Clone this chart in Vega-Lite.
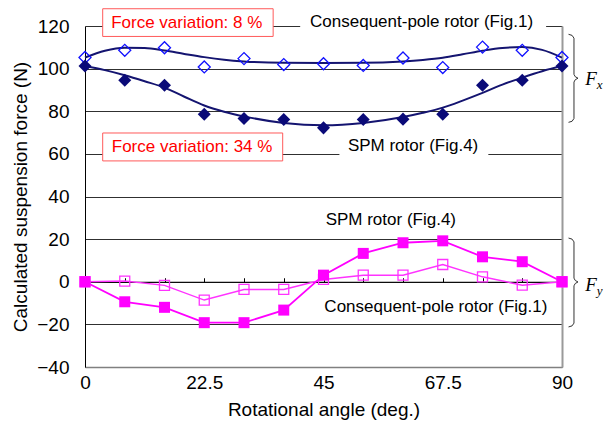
{
  "$schema": "https://vega.github.io/schema/vega-lite/v6.json",
  "width": 477,
  "height": 341,
  "autosize": "none",
  "padding": {"left": 85, "top": 26, "right": 46, "bottom": 60},
  "background": "white",
  "config": {
    "view": {"stroke": null},
    "axis": {"labelFont": "Liberation Sans", "titleFont": "Liberation Sans", "labelFontSize": 19, "titleFontSize": 19, "titleFontWeight": "normal", "labelColor": "#000", "titleColor": "#000"},
    "text": {"font": "Liberation Sans"}
  },
  "datasets": {
    "pts": [
      {"angle": 0, "fxc": 105.2, "fxs": 101.2, "fyc": 0, "fys": 0},
      {"angle": 7.5, "fxc": 108.6, "fxs": 94.5, "fyc": 0.3, "fys": -9.4},
      {"angle": 15, "fxc": 109.8, "fxs": 92.2, "fyc": -1.7, "fys": -12},
      {"angle": 22.5, "fxc": 100.8, "fxs": 78.6, "fyc": -8.6, "fys": -19.2},
      {"angle": 30, "fxc": 104.7, "fxs": 76.6, "fyc": -3.6, "fys": -19.2},
      {"angle": 37.5, "fxc": 101.9, "fxs": 76.1, "fyc": -3.6, "fys": -13.3},
      {"angle": 45, "fxc": 102.3, "fxs": 72.2, "fyc": 1.1, "fys": 3.1},
      {"angle": 52.5, "fxc": 101.5, "fxs": 76.1, "fyc": 3.1, "fys": 13.3},
      {"angle": 60, "fxc": 105, "fxs": 76.3, "fyc": 3.1, "fys": 18.3},
      {"angle": 67.5, "fxc": 100.5, "fxs": 78.6, "fyc": 8.1, "fys": 19.2},
      {"angle": 75, "fxc": 110.1, "fxs": 92.2, "fyc": 2.3, "fys": 11.7},
      {"angle": 82.5, "fxc": 108.6, "fxs": 94.5, "fyc": -1.6, "fys": 9.4},
      {"angle": 90, "fxc": 105.2, "fxs": 101.2, "fyc": 0, "fys": 0}
    ],
    "fit": [
      {"angle": 0, "cons": 105.2, "spm": 101.2},
      {"angle": 3.75, "cons": 108.4, "spm": 99.3},
      {"angle": 7.5, "cons": 109.8, "spm": 96.9},
      {"angle": 11.25, "cons": 109.7, "spm": 94.1},
      {"angle": 15, "cons": 108.5, "spm": 91.1},
      {"angle": 18.75, "cons": 106.9, "spm": 86.8},
      {"angle": 22.5, "cons": 105.4, "spm": 82.7},
      {"angle": 26.25, "cons": 104.2, "spm": 79.8},
      {"angle": 30, "cons": 103.4, "spm": 77.6},
      {"angle": 37.5, "cons": 102.7, "spm": 74.5},
      {"angle": 45, "cons": 102.6, "spm": 73.4},
      {"angle": 52.5, "cons": 102.7, "spm": 74.5},
      {"angle": 60, "cons": 103.4, "spm": 77.3},
      {"angle": 63.75, "cons": 104.1, "spm": 79.3},
      {"angle": 67.5, "cons": 105.1, "spm": 81.7},
      {"angle": 71.25, "cons": 106.7, "spm": 85},
      {"angle": 75, "cons": 108.4, "spm": 88.6},
      {"angle": 78.75, "cons": 109.7, "spm": 92.5},
      {"angle": 82.5, "cons": 110.1, "spm": 95.8},
      {"angle": 86.25, "cons": 108.8, "spm": 98.8},
      {"angle": 90, "cons": 105.2, "spm": 101.2}
    ],
    "boxes": [
      {"kind": "gap", "x1": 40.6, "x2": 87, "y1": 115.5, "y2": 127},
      {"kind": "gap", "x1": 48, "x2": 76.1, "y1": 56.5, "y2": 68},
      {"kind": "frame", "x1": 3.34, "x2": 35.5, "y1": 115.1, "y2": 128.1},
      {"kind": "frame", "x1": 3.34, "x2": 37.3, "y1": 56.7, "y2": 69.8}
    ],
    "labels": [
      {"kind": "var", "text": "Force variation: 8 %", "x": 19.2, "y": 121.4},
      {"kind": "var", "text": "Force variation: 34 %", "x": 20.2, "y": 63.3},
      {"kind": "rotor", "text": "Consequent-pole rotor (Fig.1)", "x": 63.5, "y": 121.7},
      {"kind": "rotor", "text": "SPM rotor (Fig.4)", "x": 61.9, "y": 63.7},
      {"kind": "rotor", "text": "SPM rotor (Fig.4)", "x": 57.7, "y": 29.2},
      {"kind": "rotor", "text": "Consequent-pole rotor (Fig.1)", "x": 66.2, "y": -12}
    ],
    "sym": [
      {"part": "main", "text": "F", "x": 95.5, "y": 94.9},
      {"part": "sub", "text": "x", "x": 97.1, "y": 92.4},
      {"part": "main", "text": "F", "x": 95.5, "y": -1.5},
      {"part": "sub", "text": "y", "x": 97.1, "y": -4.2}
    ],
    "braces": [
      {"b": "fx", "o": 1, "x": 91.23, "y": 116.1},
      {"b": "fx", "o": 2, "x": 91.9, "y": 115.6},
      {"b": "fx", "o": 3, "x": 92.26, "y": 114.3},
      {"b": "fx", "o": 4, "x": 92.26, "y": 97.3},
      {"b": "fx", "o": 5, "x": 92.5, "y": 96.2},
      {"b": "fx", "o": 6, "x": 93.02, "y": 95.5},
      {"b": "fx", "o": 7, "x": 92.5, "y": 94.8},
      {"b": "fx", "o": 8, "x": 92.26, "y": 93.7},
      {"b": "fx", "o": 9, "x": 92.26, "y": 76.6},
      {"b": "fx", "o": 10, "x": 91.9, "y": 75.3},
      {"b": "fx", "o": 11, "x": 91.23, "y": 74.8},
      {"b": "fy", "o": 1, "x": 91.23, "y": 20.5},
      {"b": "fy", "o": 2, "x": 91.9, "y": 20},
      {"b": "fy", "o": 3, "x": 92.26, "y": 18.7},
      {"b": "fy", "o": 4, "x": 92.26, "y": 1.7},
      {"b": "fy", "o": 5, "x": 92.5, "y": 0.6},
      {"b": "fy", "o": 6, "x": 93.02, "y": -0.1},
      {"b": "fy", "o": 7, "x": 92.5, "y": -0.8},
      {"b": "fy", "o": 8, "x": 92.26, "y": -1.9},
      {"b": "fy", "o": 9, "x": 92.26, "y": -19.4},
      {"b": "fy", "o": 10, "x": 91.9, "y": -20.7},
      {"b": "fy", "o": 11, "x": 91.23, "y": -21.2}
    ]
  },
  "resolve": {"axis": {"x": "independent", "y": "independent"}},
  "layer": [
    {
      "data": {"name": "boxes"},
      "transform": [{"filter": "datum.kind == 'gap'"}],
      "mark": {"type": "rect", "fill": "white", "stroke": null},
      "encoding": {
        "x": {"field": "x1", "type": "quantitative", "scale": {"domain": [0, 90], "nice": false, "zero": false},
          "axis": {"values": [0, 22.5, 45, 67.5, 90], "format": ".1~f", "ticks": false, "grid": false, "domainColor": "#808080", "domainWidth": 1.5, "labelPadding": 6, "labelFlush": false, "labelOverlap": false, "title": "Rotational angle (deg.)", "titlePadding": 8}},
        "x2": {"field": "x2"},
        "y": {"field": "y1", "type": "quantitative", "scale": {"domain": [-40, 120], "nice": false, "zero": false},
          "axis": {"values": [-40, -20, 0, 20, 40, 60, 80, 100, 120], "grid": true, "gridColor": "#303030", "ticks": false, "domainColor": "#000", "labelPadding": 16, "labelOverlap": false, "labelFlush": false, "title": "Calculated suspension force (N)", "titlePadding": 6}},
        "y2": {"field": "y2"}
      }
    },
    {
      "data": {"name": "boxes"},
      "transform": [{"filter": "datum.kind == 'frame'"}],
      "mark": {"type": "rect", "fill": "white", "stroke": "#ff5a5a", "strokeWidth": 1},
      "encoding": {
        "x": {"field": "x1", "type": "quantitative", "axis": {"orient": "bottom", "offset": -85.25, "values": [0, 7.5, 15, 22.5, 30, 37.5, 45, 52.5, 60, 67.5, 75, 82.5, 90], "labels": false, "tickSize": -4, "tickColor": "#000", "domainColor": "#000", "grid": false, "title": null}},
        "x2": {"field": "x2"},
        "y": {"field": "y1", "type": "quantitative", "axis": {"orient": "right", "labels": false, "ticks": false, "grid": false, "domainColor": "#9a9a9a", "domainWidth": 2, "title": null}},
        "y2": {"field": "y2"}
      }
    },
    {
      "data": {"name": "labels"},
      "transform": [{"filter": "datum.kind == 'var'"}],
      "mark": {"type": "text", "fontSize": 17, "color": "#ff0000", "align": "center", "baseline": "middle"},
      "encoding": {
        "x": {"field": "x", "type": "quantitative", "axis": null},
        "y": {"field": "y", "type": "quantitative", "axis": null},
        "text": {"field": "text"}
      }
    },
    {
      "data": {"name": "labels"},
      "transform": [{"filter": "datum.kind == 'rotor'"}],
      "mark": {"type": "text", "fontSize": 17, "color": "#000", "align": "center", "baseline": "middle"},
      "encoding": {
        "x": {"field": "x", "type": "quantitative", "axis": null},
        "y": {"field": "y", "type": "quantitative", "axis": null},
        "text": {"field": "text"}
      }
    },
    {
      "data": {"name": "fit"},
      "mark": {"type": "line", "color": "#141470", "strokeWidth": 2, "interpolate": "monotone"},
      "encoding": {
        "x": {"field": "angle", "type": "quantitative", "axis": null},
        "y": {"field": "cons", "type": "quantitative", "axis": null}
      }
    },
    {
      "data": {"name": "fit"},
      "mark": {"type": "line", "color": "#141470", "strokeWidth": 2, "interpolate": "monotone"},
      "encoding": {
        "x": {"field": "angle", "type": "quantitative", "axis": null},
        "y": {"field": "spm", "type": "quantitative", "axis": null}
      }
    },
    {
      "data": {"name": "pts"},
      "mark": {"type": "point", "shape": "diamond", "size": 144, "filled": false, "stroke": "#1010ff", "strokeWidth": 1.3, "opacity": 1},
      "encoding": {
        "x": {"field": "angle", "type": "quantitative", "axis": null},
        "y": {"field": "fxc", "type": "quantitative", "axis": null}
      }
    },
    {
      "data": {"name": "pts"},
      "mark": {"type": "point", "shape": "diamond", "size": 170, "filled": true, "fill": "#0a0a78", "opacity": 1},
      "encoding": {
        "x": {"field": "angle", "type": "quantitative", "axis": null},
        "y": {"field": "fxs", "type": "quantitative", "axis": null}
      }
    },
    {
      "data": {"name": "pts"},
      "mark": {"type": "line", "color": "#ff33ff", "strokeWidth": 1.5},
      "encoding": {
        "x": {"field": "angle", "type": "quantitative", "axis": null},
        "y": {"field": "fyc", "type": "quantitative", "axis": null}
      }
    },
    {
      "data": {"name": "pts"},
      "mark": {"type": "line", "color": "#ff00ff", "strokeWidth": 1.8},
      "encoding": {
        "x": {"field": "angle", "type": "quantitative", "axis": null},
        "y": {"field": "fys", "type": "quantitative", "axis": null}
      }
    },
    {
      "data": {"name": "pts"},
      "mark": {"type": "point", "shape": "square", "size": 100, "filled": false, "stroke": "#ff33ff", "strokeWidth": 1.3, "opacity": 1},
      "encoding": {
        "x": {"field": "angle", "type": "quantitative", "axis": null},
        "y": {"field": "fyc", "type": "quantitative", "axis": null}
      }
    },
    {
      "data": {"name": "pts"},
      "mark": {"type": "point", "shape": "square", "size": 121, "filled": true, "fill": "#ff00ff", "opacity": 1},
      "encoding": {
        "x": {"field": "angle", "type": "quantitative", "axis": null},
        "y": {"field": "fys", "type": "quantitative", "axis": null}
      }
    },
    {
      "data": {"name": "braces"},
      "mark": {"type": "line", "color": "#333", "strokeWidth": 1},
      "encoding": {
        "x": {"field": "x", "type": "quantitative", "axis": null},
        "y": {"field": "y", "type": "quantitative", "axis": null},
        "detail": {"field": "b"},
        "order": {"field": "o", "type": "quantitative"}
      }
    },
    {
      "data": {"name": "sym"},
      "transform": [{"filter": "datum.part == 'main'"}],
      "mark": {"type": "text", "font": "Liberation Serif", "fontStyle": "italic", "fontSize": 19, "color": "#000", "align": "center", "baseline": "middle"},
      "encoding": {
        "x": {"field": "x", "type": "quantitative", "axis": null},
        "y": {"field": "y", "type": "quantitative", "axis": null},
        "text": {"field": "text"}
      }
    },
    {
      "data": {"name": "sym"},
      "transform": [{"filter": "datum.part == 'sub'"}],
      "mark": {"type": "text", "font": "Liberation Serif", "fontStyle": "italic", "fontSize": 13, "color": "#000", "align": "center", "baseline": "middle"},
      "encoding": {
        "x": {"field": "x", "type": "quantitative", "axis": null},
        "y": {"field": "y", "type": "quantitative", "axis": null},
        "text": {"field": "text"}
      }
    }
  ]
}
